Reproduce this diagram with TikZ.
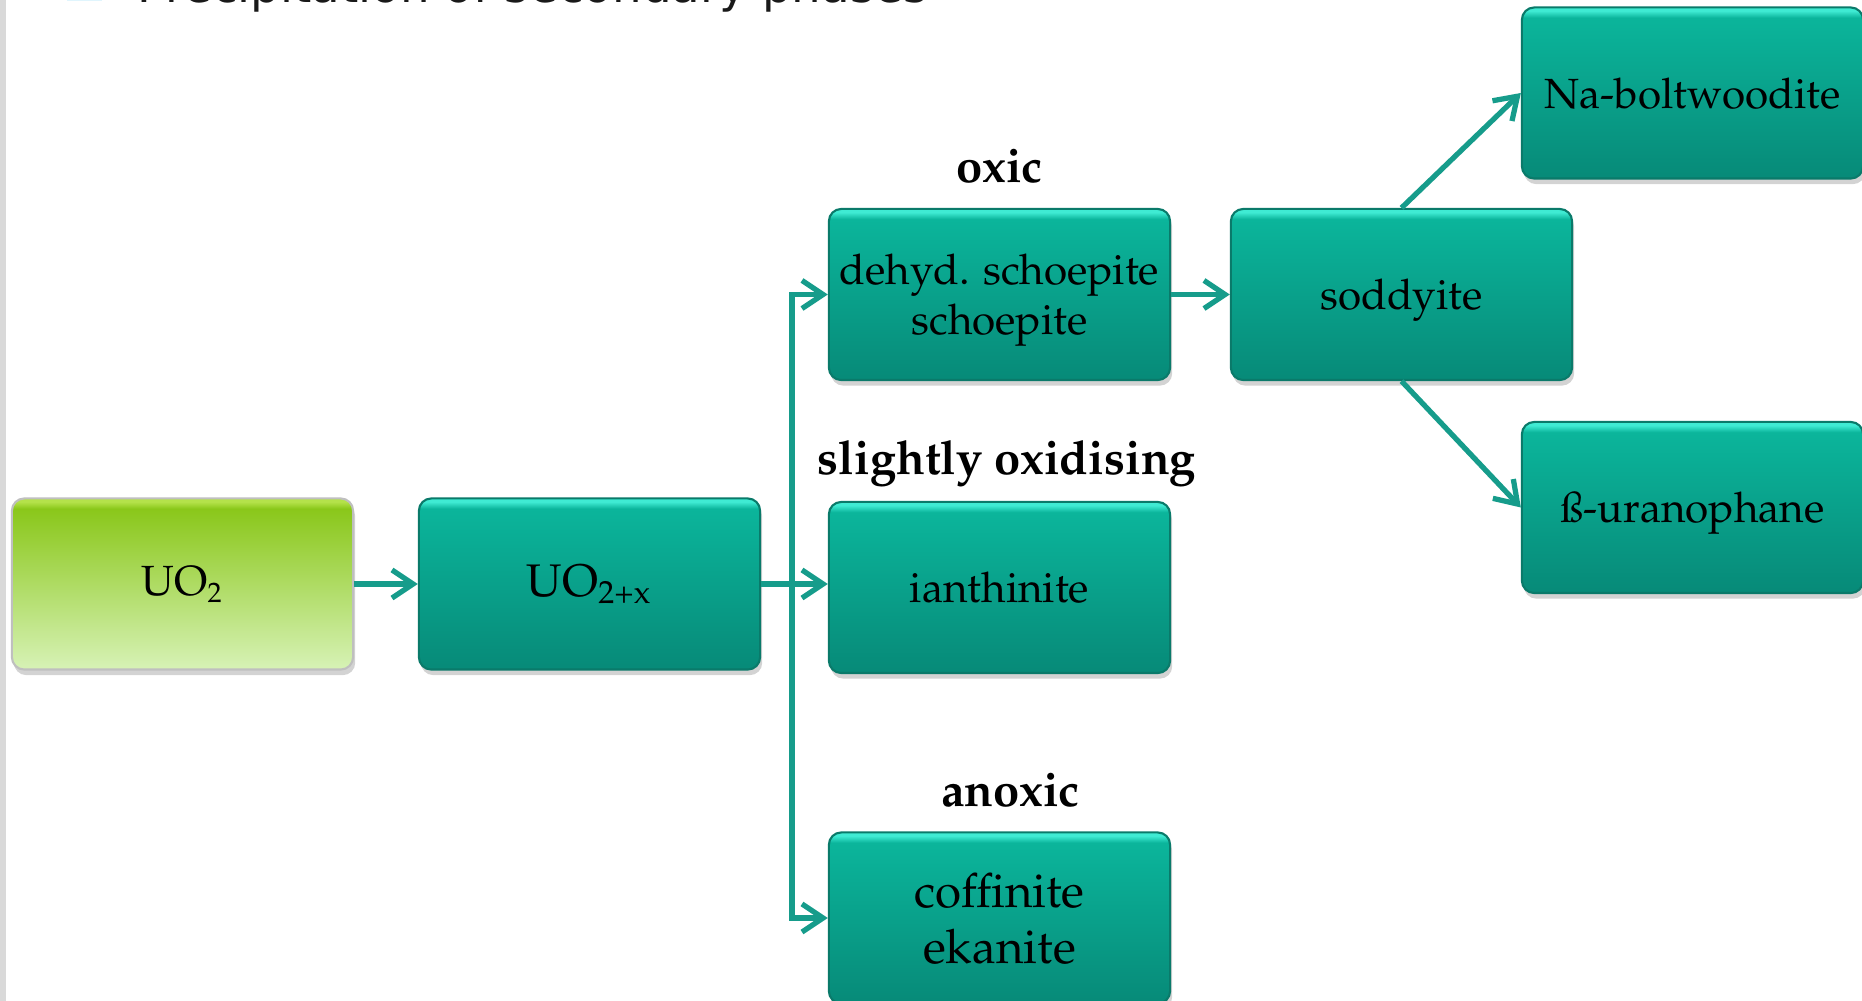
\documentclass[tikz,border=0pt]{standalone}
\usepackage{fontspec}
\usepackage{tikz}
\usetikzlibrary{arrows.meta,positioning,calc,shadows}
\newfontfamily\titlefont{DejaVu Sans}
\newcommand\palfont{\usefont{OT1}{ppl}{m}{n}}
\newcommand\palbold{\usefont{OT1}{ppl}{b}{n}}
\definecolor{tealtop}{HTML}{0BB59B}
\definecolor{tealbot}{HTML}{078A78}
\definecolor{tealhi}{HTML}{3FEBD3}
\definecolor{tealedge}{HTML}{0A7A6A}
\definecolor{limetop}{HTML}{8AC71A}
\definecolor{limebot}{HTML}{D7F2B6}
\definecolor{limehi}{HTML}{B4E24A}
\definecolor{arrowteal}{HTML}{169C8B}
\pgfdeclareverticalshading{tealshade}{100bp}{color(0bp)=(tealbot); color(25bp)=(tealbot); color(72bp)=(tealtop); color(74bp)=(tealhi); color(100bp)=(tealhi)}
\pgfdeclareverticalshading{limeshade}{100bp}{color(0bp)=(limebot); color(25bp)=(limebot); color(72bp)=(limetop); color(74bp)=(limehi); color(100bp)=(limehi)}
\tikzset{
  phase/.style={draw=tealedge, line width=0.6pt, rounded corners=3.5pt, shading=tealshade,
    minimum width=3.41cm, minimum height=1.71cm, align=center, inner sep=2pt,
    drop shadow={opacity=0.35, shadow xshift=0.6pt, shadow yshift=-1.6pt},
    font=\fontsize{12pt}{14.2pt}\palfont},
  flatphase/.style={phase, text depth=0pt},
  startphase/.style={phase, shading=limeshade, draw=black!25},
  cond/.style={font=\fontsize{13.4pt}{15pt}\palbold, anchor=base, inner sep=0pt},
  flow/.style={draw=arrowteal, line width=1.5pt,
    -{Straight Barb[length=6pt, width=8pt, line width=1.5pt]}},
}
\begin{document}
\begin{tikzpicture}[x=0.01cm, y=-0.01cm]
    \useasboundingbox (0,0) rectangle (1862,1001);
    % slide edge and title (cut off)
    \fill[black!15] (0,0) rectangle (6,1001);
    \fill[cyan!12] (67,-30) rectangle (102,1.5);
    \node[anchor=base west, inner sep=0pt, font=\titlefont\fontsize{13.3pt}{16pt}\selectfont, text=black!90] (title) at (137,2.5) {Precipitation of secondary phases};

    % phases
    \node[startphase] (uo) at (182.5,584) {UO\textsubscript{2}};
    \node[phase, font=\fontsize{13pt}{15pt}\palfont] (uox) at (589.5,584) {UO\textsubscript{2+x}};
    \node[phase] (dehyd) at (999.5,294.5) {dehyd. schoepite\\\smash{schoepite}};
    \node[flatphase] (ian) at (999.5,587.5) {ianthinite};
    \node[phase, font=\fontsize{13.5pt}{16pt}\palfont] (coff) at (999.5,918) {coffinite\\\smash{ekanite}};
    \node[flatphase] (sod) at (1401.5,294.5) {soddyite};
    \node[flatphase] (nab) at (1692.5,93) {Na-boltwoodite};
    \node[flatphase] (uran) at (1692.5,507.5) {\ss-uranophane};

    % conditions
    \node[cond] (oxic) at ([yshift=0.25cm]dehyd.north) {oxic};
    \node[cond] (slight) at ([xshift=0.075cm,yshift=0.26cm]ian.north) {slightly oxidising};
    \node[cond] (anoxic) at ([xshift=0.11cm,yshift=0.25cm]coff.north) {anoxic};

    % arrows
    \coordinate (split) at (792,584);
    \draw[flow] (uo) -- (uox);
    \draw[flow] (uox.east) -- (uox.east -| ian.west);
    \draw[flow] (split) |- (dehyd.west);
    \draw[flow] (split) |- (coff.west);
    \draw[flow] (dehyd) -- (sod);
    \draw[flow] (sod.north) -- (nab.west);
    \draw[flow] (sod.south) -- (uran.west);
\end{tikzpicture}
\end{document}
